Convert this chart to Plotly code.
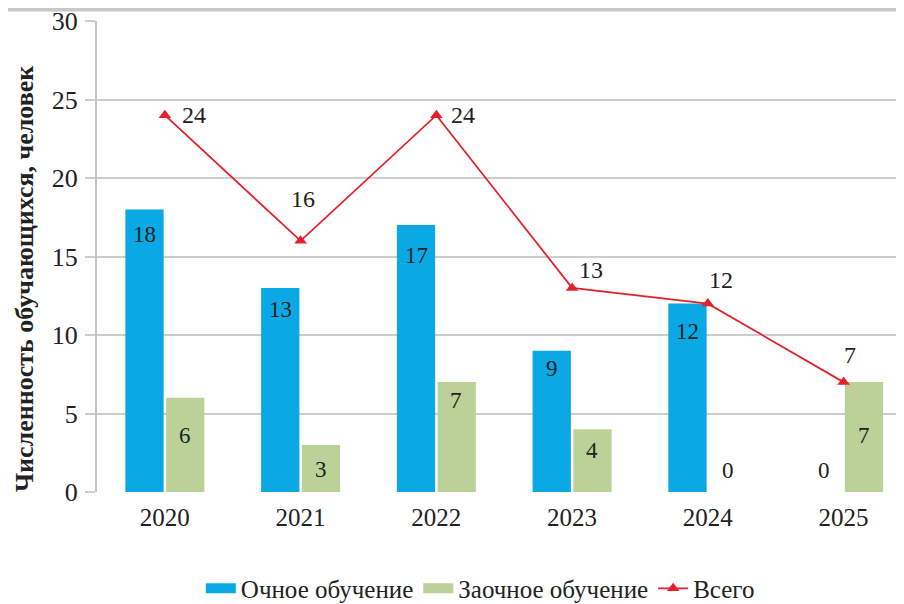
import plotly.graph_objects as go

years = ["2020", "2021", "2022", "2023", "2024", "2025"]
full_time = [18, 13, 17, 9, 12, 0]
part_time = [6, 3, 7, 4, 0, 7]
total = [24, 16, 24, 13, 12, 7]

# style: pixel offsets of labels (not data)
green_label_shift = [-38, -25, -18, -21, 22, -53]
blue_label_shift = [-25, -22, -30, -18, -28, 22]
line_label_dx = [29, 2, 27, 19, 13, 6]
line_label_dy = [0, 42, 0, 18, 24, 27]

BLUE = "#0aa9e6"
GREEN = "#bcd197"
RED = "#e3212b"
FONT = "Times New Roman, Liberation Serif, DejaVu Serif, serif"
TXT = "#222222"

fig = go.Figure()
fig.add_trace(go.Bar(name="Очное обучение", x=years, y=full_time, showlegend=False,
                     marker=dict(color=BLUE, line=dict(width=0))))
fig.add_trace(go.Bar(name="Заочное обучение", x=years, y=part_time, showlegend=False,
                     marker=dict(color=GREEN, line=dict(width=0))))
fig.add_trace(go.Scatter(name="Всего", x=years, y=total, mode="lines+markers", showlegend=False,
                         line=dict(color=RED, width=1.8),
                         marker=dict(symbol="triangle-up", size=11, color=RED)))
# legend-only entries (wide rectangular swatches like the original)
fig.add_trace(go.Scatter(name="Очное обучение", x=[None], y=[None], mode="lines",
                         line=dict(color=BLUE, width=14)))
fig.add_trace(go.Scatter(name="Заочное обучение", x=[None], y=[None], mode="lines",
                         line=dict(color=GREEN, width=14)))
fig.add_trace(go.Scatter(name="Всего", x=[None], y=[None], mode="lines+markers",
                         line=dict(color=RED, width=1.8),
                         marker=dict(symbol="triangle-up", size=11, color=RED)))

ann = []
for i, y in enumerate(years):
    ann.append(dict(x=i - 0.147, y=full_time[i], xref="x", yref="y", text=str(full_time[i]),
                    showarrow=False, yshift=blue_label_shift[i],
                    font=dict(family=FONT, size=23, color=TXT)))
    ann.append(dict(x=i + 0.147, y=part_time[i], xref="x", yref="y", text=str(part_time[i]),
                    showarrow=False, yshift=green_label_shift[i],
                    font=dict(family=FONT, size=23, color=TXT)))
    ann.append(dict(x=i, y=total[i], xref="x", yref="y", text=str(total[i]),
                    showarrow=False, xshift=line_label_dx[i], yshift=line_label_dy[i],
                    font=dict(family=FONT, size=24, color=TXT)))

ann.append(dict(x=-73 / 807, y=(492 - 279) / 471, xref="paper", yref="paper",
                xanchor="center", yanchor="middle",
                text="<b>Численность обучающихся, человек</b>", textangle=-90,
                showarrow=False, font=dict(family=FONT, size=26, color=TXT)))

# page body has an 8px margin: figure is placed at (8, 8)
fig.update_layout(
    width=896, height=596,
    margin=dict(l=89, r=0, t=13, b=112, autoexpand=False),
    paper_bgcolor="white", plot_bgcolor="white",
    barmode="group", bargap=0.40, bargroupgap=0.06,
    font=dict(family=FONT, size=23, color=TXT),
    showlegend=True,
    legend=dict(orientation="h", x=0.475, xanchor="center", y=-0.205, yanchor="middle",
                font=dict(family=FONT, size=25, color=TXT), traceorder="normal",
                itemwidth=30),
    annotations=ann,
    shapes=[dict(type="rect", xref="paper", yref="paper", x0=-97 / 807, x1=1.01,
                 y0=1 + 9.5 / 471, y1=1 + 14 / 471, fillcolor="#c8c8c8",
                 line=dict(width=0), layer="below")],
)
fig.update_xaxes(range=[-0.5, 5.445], showgrid=False, showline=False, ticks="",
                 automargin=False,
                 tickfont=dict(family=FONT, size=25, color=TXT), ticklabelstandoff=8)
fig.update_yaxes(range=[0, 30], tickvals=[0, 5, 10, 15, 20, 25, 30],
                 showgrid=True, gridcolor="#cdcdcd", gridwidth=2,
                 automargin=False, ticklabeloverflow="allow",
                 zeroline=False, showline=True, linecolor="#c4c4c4", linewidth=2,
                 ticks="outside", ticklen=10, tickcolor="#cdcdcd", tickwidth=2,
                 tickfont=dict(family=FONT, size=26, color=TXT), ticklabelstandoff=2)

fig.write_html("out.html")
